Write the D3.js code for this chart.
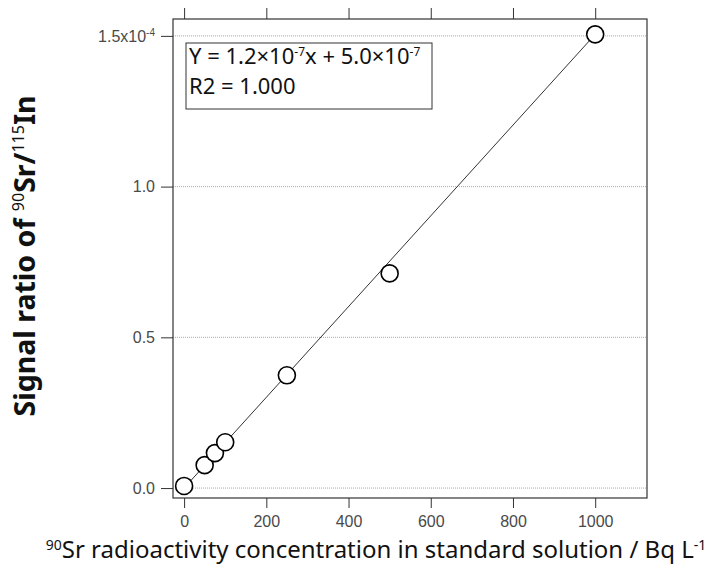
<!DOCTYPE html>
<html>
<head>
<meta charset="utf-8">
<script src="https://cdn.jsdelivr.net/npm/d3@7"></script>
<style>
  body { margin: 0; background: #fff; }
  svg { font-family: "Noto Sans", "DejaVu Sans", sans-serif; }
</style>
</head>
<body>
<svg id="chart" width="710" height="574"></svg>
<script>
// data (y in units of 1e-4)
const concX = [0, 50, 75, 100, 250, 500, 1000];
const ratioY = [0.007, 0.076, 0.116, 0.152, 0.374, 0.712, 1.505];
const xTicks = [0, 200, 400, 600, 800, 1000];
const yTicks = [0, 0.5, 1.0, 1.5];
const fitLine = [[0, 0.0], [1000, 1.505]];

const svg = d3.select("#chart");
const plotL = 173, plotR = 647, plotT = 19, plotB = 498;

const x = d3.scaleLinear().domain([-27, 1126]).range([plotL, plotR]);
const y = d3.scaleLinear().domain([-0.033, 1.556]).range([plotB, plotT]);

// superscript helper (explicit px shifts)
function sup(t, s, size, shift) {
    t.append("tspan").attr("dy", -shift).style("font-size", size + "px").style("font-weight", "normal").text(s);
}

// grid
svg.append("g").selectAll("line")
    .data(yTicks)
    .enter().append("line")
    .attr("x1", plotL).attr("x2", plotR)
    .attr("y1", d => y(d)).attr("y2", d => y(d))
    .attr("stroke", "#aaa")
    .attr("stroke-width", 1)
    .attr("stroke-dasharray", "1,1");

// frame
svg.append("rect")
    .attr("x", plotL).attr("y", plotT)
    .attr("width", plotR - plotL).attr("height", plotB - plotT)
    .attr("fill", "none").attr("stroke", "#333").attr("stroke-width", 1.2);

// axes
const xAxis = svg.append("g")
    .attr("transform", `translate(0,${plotB})`)
    .call(d3.axisBottom(x).tickValues(xTicks).tickSize(10).tickPadding(8).tickFormat(d3.format("d")));
const xTop = svg.append("g")
    .attr("transform", `translate(0,${plotT})`)
    .call(d3.axisTop(x).tickValues(xTicks).tickSize(11).tickFormat(""));
const yAxis = svg.append("g")
    .attr("transform", `translate(${plotL},0)`)
    .call(d3.axisLeft(y).tickValues(yTicks).tickSize(12).tickPadding(6)
        .tickFormat(d => d === 1.5 ? "" : d3.format(".1f")(d)));

[xAxis, xTop, yAxis].forEach(g => {
    g.select(".domain").remove();
    g.selectAll(".tick line").attr("stroke", "#333");
    g.selectAll("text").attr("fill", "#4a4a4a").style("font-size", "16px");
});

// 1.5x10^-4 label
const topLbl = yAxis.selectAll(".tick").filter(d => d === 1.5).select("text");
topLbl.text("1.5x10");
sup(topLbl, "-4", 10, 6);

// fit line
svg.append("line")
    .attr("x1", x(fitLine[0][0])).attr("y1", y(fitLine[0][1]))
    .attr("x2", x(fitLine[1][0])).attr("y2", y(fitLine[1][1]))
    .attr("stroke", "#333").attr("stroke-width", 1);

// points
svg.append("g").selectAll("circle")
    .data(concX.map((c, i) => [c, ratioY[i]]))
    .enter().append("circle")
    .attr("cx", d => x(d[0])).attr("cy", d => y(d[1]))
    .attr("r", 8.5)
    .attr("fill", "#fff").attr("stroke", "#000").attr("stroke-width", 1.6);

// equation box
svg.append("rect")
    .attr("x", 186).attr("y", 43).attr("width", 246).attr("height", 66)
    .attr("fill", "#fff").attr("stroke", "#333").attr("stroke-width", 1);
const eq = svg.append("text").attr("x", 189).attr("y", 64)
    .style("font-size", "22px").attr("fill", "#111");
eq.append("tspan").text("Y = 1.2×10");
sup(eq, "-7", 12, 8);
eq.append("tspan").attr("dy", 8).text("x + 5.0×10");
sup(eq, "-7", 12, 8);
svg.append("text").attr("x", 189).attr("y", 94)
    .style("font-size", "22px").attr("fill", "#111").text("R2 = 1.000");

// y label
const yl = svg.append("text")
    .attr("transform", "translate(35,256) rotate(-90)")
    .attr("text-anchor", "middle")
    .style("font-size", "28.5px").style("font-weight", "bold").attr("fill", "#111");
yl.append("tspan").text("Signal ratio of ");
sup(yl, "90", 16, 11);
yl.append("tspan").attr("dy", 11).text("Sr/");
sup(yl, "115", 16, 11);
yl.append("tspan").attr("dy", 11).text("In");

// x label
const xl = svg.append("text")
    .attr("x", 376).attr("y", 558)
    .attr("text-anchor", "middle")
    .style("font-size", "24px").attr("fill", "#111");
sup(xl, "90", 14, 8);
xl.append("tspan").attr("dy", 8).text("Sr radioactivity concentration in standard solution / Bq L");
sup(xl, "-1", 14, 8);
</script>
</body>
</html>
